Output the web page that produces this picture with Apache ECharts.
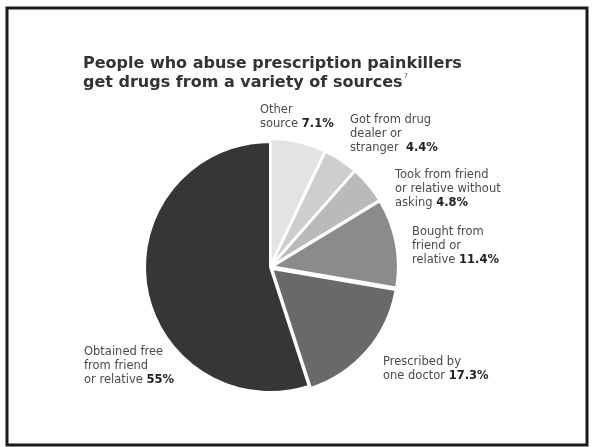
<!DOCTYPE html>
<html>
<head>
<meta charset="utf-8">
<script src="https://cdn.jsdelivr.net/npm/echarts@6/dist/echarts.min.js"></script>
<style>
  html, body { margin: 0; padding: 0; background: #fff; }
  #main { width: 592px; height: 447px; }
</style>
</head>
<body>
<div id="main"></div>
<script>
// data
const categories = [
  'Other\nsource',
  'Got from drug\ndealer or\nstranger ',
  'Took from friend\nor relative without\nasking',
  'Bought from\nfriend or\nrelative',
  'Prescribed by\none doctor',
  'Obtained free\nfrom friend\nor relative'
];
const values = [7.1, 4.4, 4.8, 11.4, 17.3, 55];
const colors = ['#e3e3e3', '#cecece', '#bababa', '#8b8b8b', '#696969', '#363636'];
// slices pulled out a little from the centre
const pulled = [true, true, true, true, true, false];
// top-left of each label block
const labelPos = [[260, 103], [350, 113], [395, 168], [412, 225], [383, 355], [84, 345]];

const chart = echarts.init(document.getElementById('main'));

const labelFont = { fontFamily: 'DejaVu Sans', fontSize: 11.5, lineHeight: 14 };

const labels = categories.map((c, i) => ({
  type: 'text',
  left: labelPos[i][0],
  top: labelPos[i][1],
  style: {
    text: c + ' {b|' + values[i] + '%}',
    fill: '#4a4a4a',
    ...labelFont,
    rich: {
      b: { ...labelFont, fontWeight: 'bold', fill: '#222' }
    }
  }
}));

chart.setOption({
  animation: false,
  backgroundColor: '#fff',
  title: {
    text: 'People who abuse prescription painkillers\nget drugs from a variety of sources{s|7}',
    left: 83,
    top: 54,
    padding: 0,
    textStyle: {
      fontFamily: 'DejaVu Sans',
      fontWeight: 'bold',
      fontSize: 16,
      lineHeight: 19,
      color: '#333',
      rich: {
        s: { fontSize: 7, fontWeight: 'normal', color: '#777', verticalAlign: 'top', lineHeight: 19, padding: [0, 0, 0, 1] }
      }
    }
  },
  graphic: [{
    type: 'rect',
    shape: { x: 7, y: 8, width: 580, height: 437 },
    style: { fill: 'none', stroke: '#1a1a1a', lineWidth: 3 }
  }].concat(labels),
  series: [{
    type: 'pie',
    center: [270, 267],
    radius: 125,
    startAngle: 90,
    clockwise: true,
    selectedMode: 'multiple',
    selectedOffset: 3,
    emphasis: { disabled: true },
    itemStyle: { borderColor: '#fff', borderWidth: 2 },
    label: { show: false },
    labelLine: { show: false },
    data: categories.map((c, i) => ({
      name: c,
      value: values[i],
      selected: pulled[i],
      itemStyle: { color: colors[i] },
      select: { itemStyle: { color: colors[i], borderColor: '#fff', borderWidth: 2 } }
    }))
  }]
});
</script>
</body>
</html>
